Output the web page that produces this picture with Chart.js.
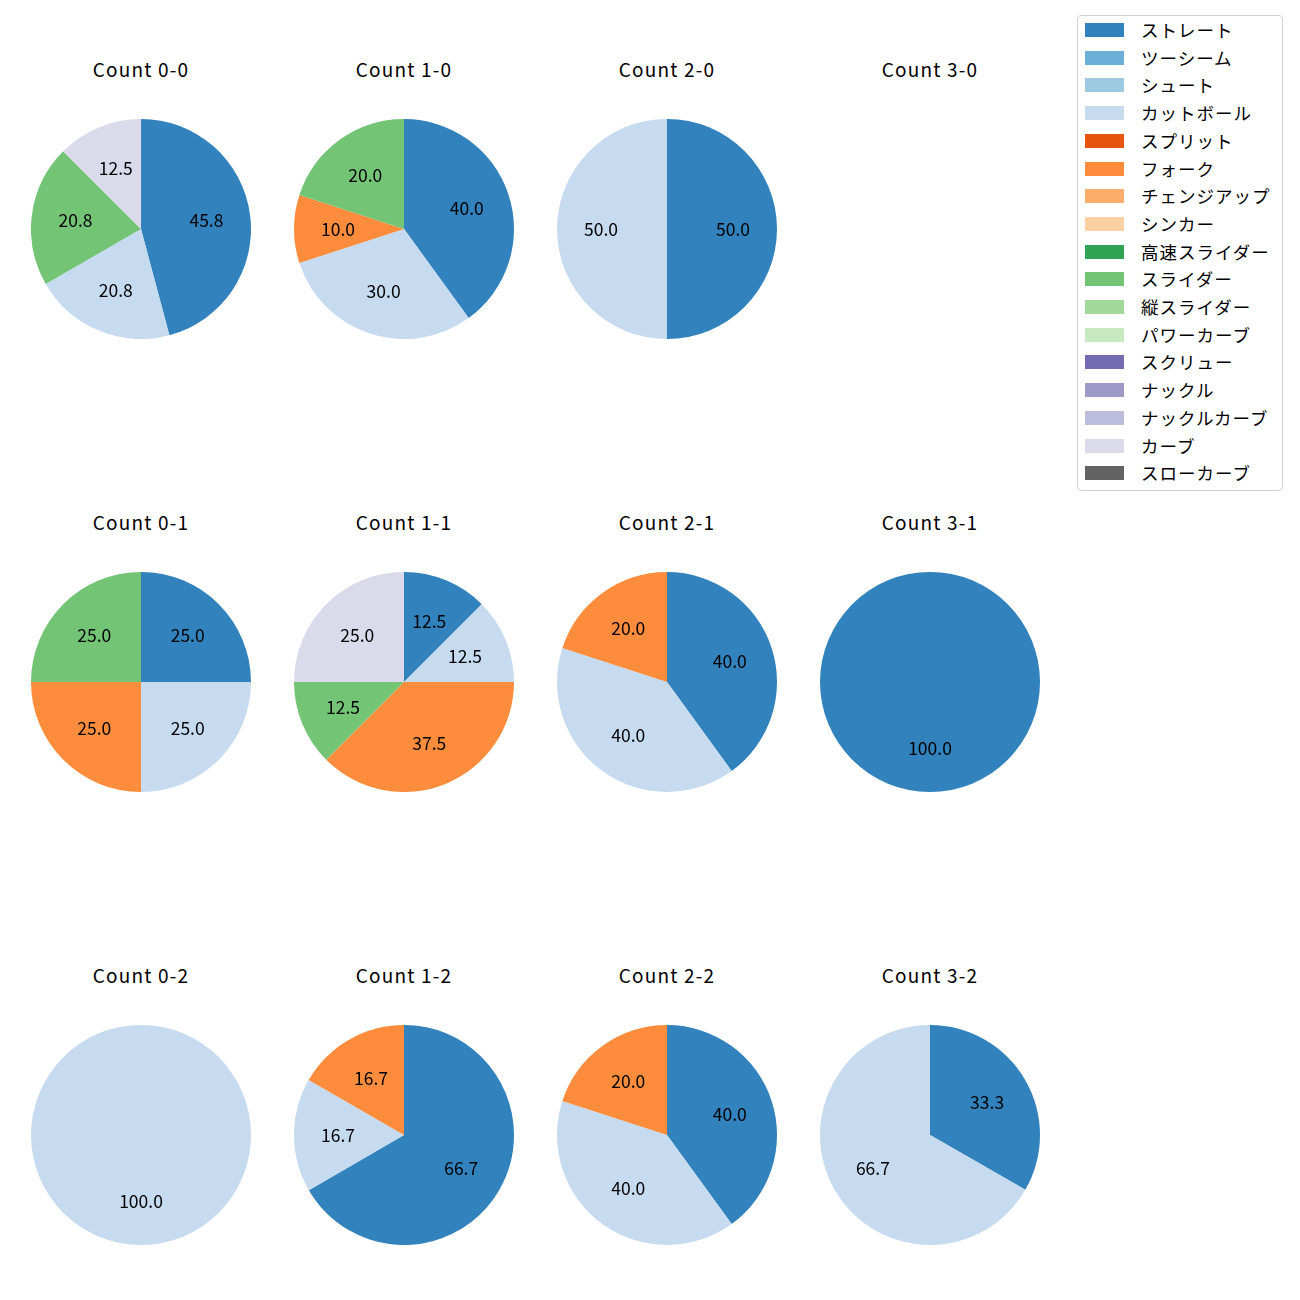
<!DOCTYPE html>
<html>
<head>
<meta charset="utf-8">
<script src="https://cdn.jsdelivr.net/npm/chart.js@4/dist/chart.umd.min.js"></script>
<style>
    body { margin: 0; background: #fff; font-family: "Noto Sans CJK JP", sans-serif; }
    #wrap { position: relative; width: 1300px; height: 1300px; }
    .title { position: absolute; width: 240px; text-align: center; font-size: 19px; line-height: 20px; letter-spacing: 1.2px; color: #000; }
    .pie { position: absolute; width: 220px; height: 220px; }
    #legend { position: absolute; left: 1077px; top: 15px; width: 204px; height: 474px; border: 1px solid #d0d0d0; border-radius: 4px; background: #fff; }
    .item { position: absolute; left: 7px; height: 20px; font-size: 17.5px; line-height: 20px; color: #000; }
    .sw { position: absolute; left: 0; top: 3px; width: 39px; height: 14px; }
    .lab { position: absolute; left: 56px; white-space: nowrap; letter-spacing: 1px; }
</style>
</head>
<body>
<div id="wrap">
    <div id="legend"></div>
</div>
<script>
const pitchNames = ["ストレート", "ツーシーム", "シュート", "カットボール", "スプリット", "フォーク", "チェンジアップ", "シンカー",
    "高速スライダー", "スライダー", "縦スライダー", "パワーカーブ", "スクリュー", "ナックル", "ナックルカーブ", "カーブ", "スローカーブ"];
const pitchColors = ["#3182bd", "#6baed6", "#9ecae1", "#c6dbef", "#e6550d", "#fd8d3c", "#fdae6b", "#fdd0a2",
    "#31a354", "#74c476", "#a1d99b", "#c7e9c0", "#756bb1", "#9e9ac8", "#bcbddc", "#dadaeb", "#636363"];

const counts = ["0-0", "1-0", "2-0", "3-0", "0-1", "1-1", "2-1", "3-1", "0-2", "1-2", "2-2", "3-2"];

// percentage per count, same order as counts
const straight = [45.8, 40.0, 50.0, 0, 25.0, 12.5, 40.0, 100.0, 0, 66.7, 40.0, 33.3];
const cutter   = [20.8, 30.0, 50.0, 0, 25.0, 12.5, 40.0, 0, 100.0, 16.7, 40.0, 66.7];
const fork     = [0, 10.0, 0, 0, 25.0, 37.5, 20.0, 0, 0, 16.7, 20.0, 0];
const slider   = [20.8, 20.0, 0, 0, 25.0, 12.5, 0, 0, 0, 0, 0, 0];
const curve    = [12.5, 0, 0, 0, 0, 25.0, 0, 0, 0, 0, 0, 0];

const used = [
    { name: "ストレート", vals: straight },
    { name: "カットボール", vals: cutter },
    { name: "フォーク", vals: fork },
    { name: "スライダー", vals: slider },
    { name: "カーブ", vals: curve }
];

const colX = [141, 404, 667, 930];
const rowY = [229, 682, 1135];
const wrap = document.getElementById("wrap");

// labels inside slices, at 0.6 of the radius like matplotlib
const pctLabels = {
    id: "pctLabels",
    afterDatasetsDraw(chart) {
        const ctx = chart.ctx;
        const meta = chart.getDatasetMeta(0);
        const data = chart.data.datasets[0].data;
        ctx.save();
        ctx.fillStyle = "#000";
        ctx.font = "17.5px 'Noto Sans CJK JP'";
        ctx.textAlign = "center";
        ctx.textBaseline = "middle";
        meta.data.forEach((arc, i) => {
            if (!data[i]) return;
            const p = arc.getProps(["x", "y", "startAngle", "endAngle", "outerRadius"], true);
            const a = (p.startAngle + p.endAngle) / 2;
            const r = p.outerRadius * 0.6;
            ctx.fillText(data[i].toFixed(1), p.x + Math.cos(a) * r, p.y + Math.sin(a) * r);
        });
        ctx.restore();
    }
};

counts.forEach((c, k) => {
    const cx = colX[k % 4];
    const cy = rowY[Math.floor(k / 4)];

    let t = document.createElement("div");
    t.className = "title";
    t.style.left = (cx - 120) + "px";
    t.style.top = (cy - 170) + "px";
    t.innerText = "Count " + c;
    wrap.appendChild(t);

    let vals = used.map(u => u.vals[k]);
    if (vals.every(v => !v)) return;

    let cv = document.createElement("canvas");
    cv.className = "pie";
    cv.width = 220;
    cv.height = 220;
    cv.style.left = (cx - 110) + "px";
    cv.style.top = (cy - 110) + "px";
    wrap.appendChild(cv);

    new Chart(cv.getContext("2d"), {
        type: "pie",
        data: {
            labels: used.map(u => u.name),
            datasets: [{
                data: vals,
                backgroundColor: used.map(u => pitchColors[pitchNames.indexOf(u.name)]),
                borderWidth: 0
            }]
        },
        options: {
            responsive: false,
            animation: false,
            layout: { padding: 0 },
            plugins: { legend: { display: false }, tooltip: { enabled: false } }
        },
        plugins: [pctLabels]
    });
});

let html = "";
pitchNames.forEach((n, i) => {
    html += `<div class="item" style="top:${4 + i * 27.7}px">
        <div class="sw" style="background:${pitchColors[i]}"></div>
        <div class="lab">${n}</div>
    </div>`;
});
document.getElementById("legend").innerHTML = html;
</script>
</body>
</html>
